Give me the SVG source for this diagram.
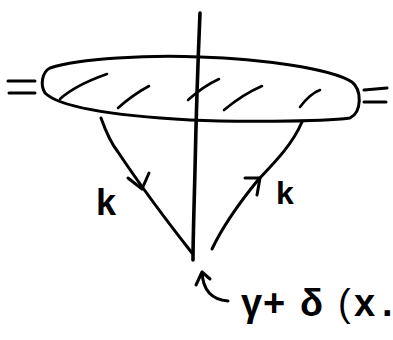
<svg xmlns="http://www.w3.org/2000/svg" width="393" height="340" viewBox="0 0 393 340">
<style>
.s{fill:none;stroke:#000;stroke-width:3;stroke-linecap:round;stroke-linejoin:round}
.h{fill:none;stroke:#000;stroke-width:2.6;stroke-linecap:round}
.t{font-family:"Liberation Sans",Arial,sans-serif;fill:#000;font-weight:bold}
</style>
<rect width="393" height="340" fill="#fff"/>
<g id="blob">
<path class="s" d="M50,68 C80,58 150,55 200,57 C260,59 330,68 352,82 C362,90 362,112 350,118 C320,122 230,122 190,120 C120,116 60,108 45,93 C40,85 42,72 50,68 Z"/>
<path class="h" d="M60,99 C72,88 90,80 107,74"/>
<path class="h" d="M118,108 C128,99 138,92 149,86"/>
<path class="h" d="M188,100 C198,91 208,84 219,79"/>
<path class="h" d="M224,110 C236,100 248,92 262,86"/>
<path class="h" d="M300,107 C306,99 312,93 320,90"/>
</g>
<g id="external-left">
<path class="s" d="M8,81 L35,81 M9,93 L35,93"/>
</g>
<g id="external-right">
<path class="s" d="M364,90 L387,88 M364,102 L386,102"/>
</g>
<g id="connectors">
<path class="s" style="stroke-width:3.6" d="M200,13 C198,60 196,120 195,170 C194,210 193,240 193,260"/>
<path class="s" d="M101,118 C106,132 110,142 118,152 C140,185 170,225 192,253"/>
<path class="s" d="M128,178 L142,189 L149,173"/>
<path class="s" d="M302,122 C292,145 275,162 258,180 C240,202 222,228 212,249"/>
<path class="s" d="M245,178 L260,178 L257,195"/>
<path class="s" d="M228,301 C214,300 203,292 202,272 M202,272 L196,285 M202,272 L210,279"/>
</g>
<g id="labels">
<text class="t" x="96" y="215" font-size="36">k</text>
<text class="t" x="276" y="204" font-size="32">k</text>
<text class="t" y="316" font-size="38"><tspan x="241">γ</tspan><tspan x="263">+</tspan><tspan x="300">δ</tspan><tspan x="338" font-weight="normal">(</tspan><tspan x="354">x</tspan><tspan x="382">.</tspan></text>
</g>
</svg>
